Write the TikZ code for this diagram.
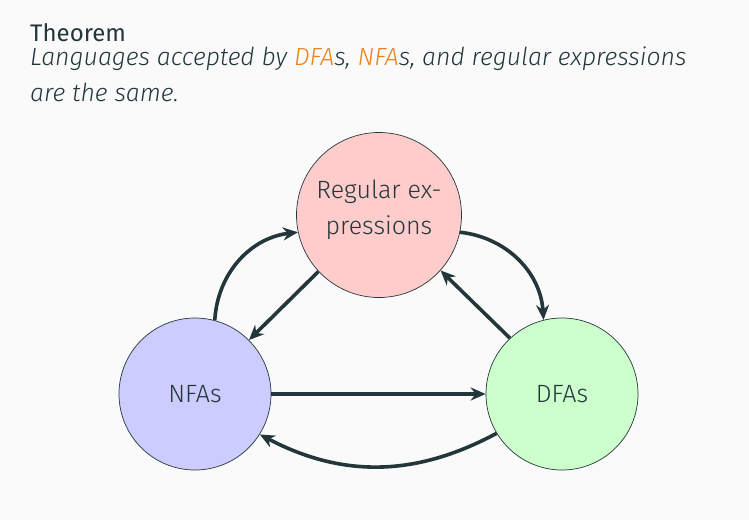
\documentclass[tikz,border=0pt]{standalone}
\usepackage{fontspec}
\setmainfont{Fira Sans Light}[ItalicFont={Fira Sans Light Italic}]
\newfontfamily\firareg{Fira Sans}
\usetikzlibrary{arrows.meta}
\definecolor{mDark}{HTML}{23373B}
\definecolor{mOrange}{HTML}{EB811B}
\definecolor{mBg}{HTML}{FAFAFA}
\definecolor{reFill}{HTML}{FFCCCC}
\definecolor{nfaFill}{HTML}{CCCCFF}
\definecolor{dfaFill}{HTML}{CCFFCC}
\tikzset{
  state/.style={circle, draw=mDark, line width=0.7pt, text=mDark, inner sep=0pt, align=center,
    font=\fontsize{25}{36}\selectfont},
  statetext/.style={inner sep=0pt, align=center, text=mDark, font=\fontsize{25}{36}\selectfont},
  conn/.style={draw=mDark, line width=3.6pt, -{Stealth[length=15pt,width=13pt]}},
  txt/.style={anchor=base west, inner sep=0pt, text=mDark, font=\fontsize{24.8}{36}\selectfont},
}
\begin{document}
\begin{tikzpicture}[x=1pt,y=-1pt]
\fill[mBg] (0,0) rectangle (749,520);
\useasboundingbox (0,0) rectangle (749,520);
\node[txt, font=\fontsize{24}{36}\firareg] (title) at (30,41) {Theorem};
\node[txt] (l1) at (30,65) {\itshape Languages accepted by \textcolor{mOrange}{DFA}s, \textcolor{mOrange}{NFA}s, and regular expressions};
\node[txt] (l2) at (30,101) {\itshape are the same.};
\node[state, fill=reFill, minimum size=165pt] (re) at (379,215) {};
\node[statetext] (retext) at ([yshift=5pt]re.center) {Regular ex-\\pressions};
\node[state, fill=nfaFill, minimum size=152pt] (nfa) at (195,394) {NFAs};
\node[state, fill=dfaFill, minimum size=152pt] (dfa) at (562,394) {DFAs};
\draw[conn] (nfa.75) to[bend left=40] (re.192);
\draw[conn] (re.223) -- (nfa.45);
\draw[conn] (re.348) to[bend left=40] (dfa.104);
\draw[conn] (dfa.133) -- (re.318);
\draw[conn] (nfa.east) -- (dfa.west);
\draw[conn] (dfa.211) to[bend left=28] (nfa.328);
\end{tikzpicture}
\end{document}
